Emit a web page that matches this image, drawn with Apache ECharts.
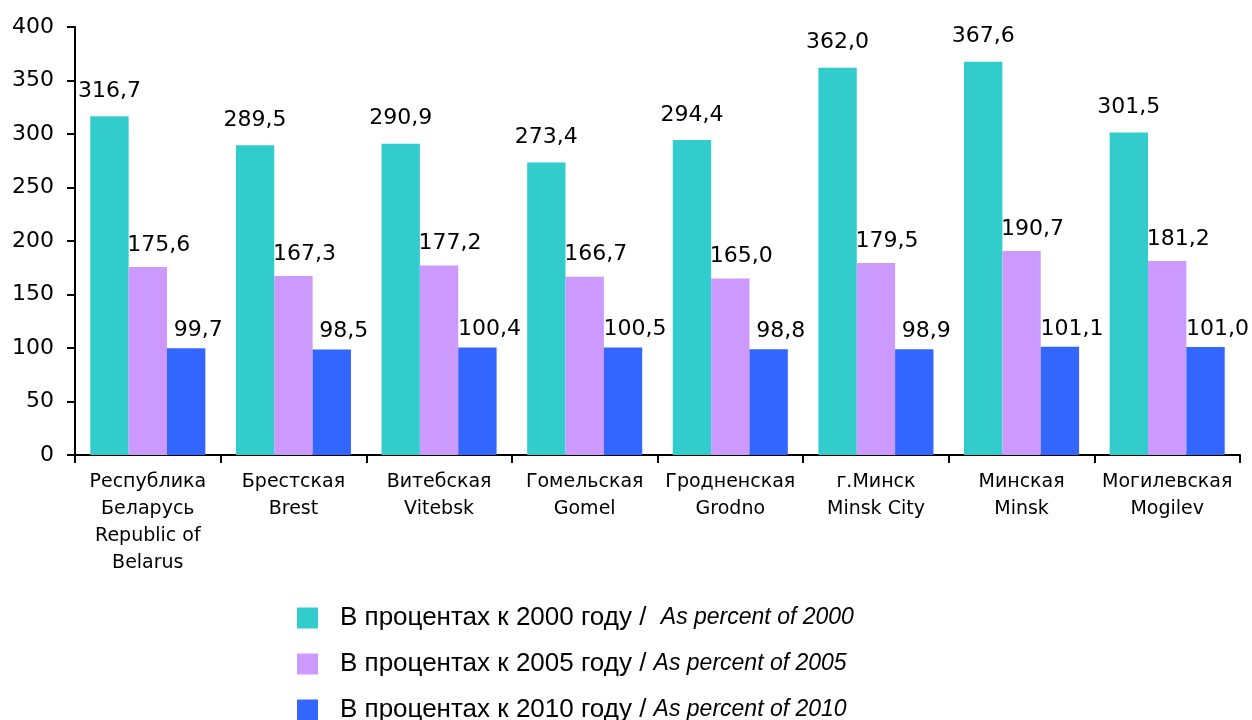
<!DOCTYPE html>
<html>
<head>
<meta charset="utf-8">
<script src="https://cdn.jsdelivr.net/npm/echarts@6/dist/echarts.min.js"></script>
<style>
  html, body { margin: 0; padding: 0; background: #fff; }
  #chart { width: 1252px; height: 720px; }
</style>
</head>
<body>
<div id="chart"></div>
<script>
const regions = [
  'Республика\nБеларусь\nRepublic of\nBelarus',
  'Брестская\nBrest',
  'Витебская\nVitebsk',
  'Гомельская\nGomel',
  'Гродненская\nGrodno',
  'г.Минск\nMinsk City',
  'Минская\nMinsk',
  'Могилевская\nMogilev'
];
const seriesRu = ['В процентах к 2000 году /  ', 'В процентах к 2005 году / ', 'В процентах к 2010 году / '];
const seriesEn = ['As percent of 2000', 'As percent of 2005', 'As percent of 2010'];
const to2000 = [316.7, 289.5, 290.9, 273.4, 294.4, 362.0, 367.6, 301.5];
const to2005 = [175.6, 167.3, 177.2, 166.7, 165.0, 179.5, 190.7, 181.2];
const to2010 = [99.7, 98.5, 100.4, 100.5, 98.8, 98.9, 101.1, 101.0];
const yTicks = [0, 50, 100, 150, 200, 250, 300, 350, 400];

const colors = ['#33CCCC', '#CC99FF', '#3366FF'];
const labelFont = 'DejaVu Sans';

function fmt(v) {
  return v.toFixed(1).replace('.', ',');
}

function bar(i, data, distance, dx) {
  return {
    name: seriesRu[i] + seriesEn[i],
    type: 'bar',
    data: data,
    barGap: '0%',
    barCategoryGap: '21%',
    itemStyle: { color: colors[i] },
    label: {
      show: true,
      position: 'top',
      distance: distance,
      offset: [dx, 0],
      color: '#000',
      fontFamily: labelFont,
      fontSize: 22,
      formatter: p => fmt(p.value)
    }
  };
}

const chart = echarts.init(document.getElementById('chart'));
chart.setOption({
  animation: false,
  grid: { left: 75, right: 12, top: 27, bottom: 265 },
  xAxis: {
    type: 'category',
    data: regions,
    axisLine: { lineStyle: { color: '#000', width: 2 } },
    axisTick: { show: true, length: 8, lineStyle: { color: '#000', width: 2 } },
    axisLabel: {
      interval: 0,
      margin: 14,
      color: '#000',
      fontFamily: labelFont,
      fontSize: 19,
      lineHeight: 27
    }
  },
  yAxis: {
    type: 'value',
    min: yTicks[0],
    max: yTicks[yTicks.length - 1],
    interval: 50,
    splitLine: { show: false },
    axisLine: { show: true, lineStyle: { color: '#000', width: 2 } },
    axisTick: { show: true, length: 8, lineStyle: { color: '#000', width: 2 } },
    axisLabel: {
      margin: 21,
      color: '#000',
      fontFamily: labelFont,
      fontSize: 22
    }
  },
  legend: {
    orient: 'vertical',
    left: 297,
    top: 605,
    height: 130,
    padding: 0,
    itemWidth: 21,
    itemHeight: 21,
    itemGap: 20,
    icon: 'rect',
    selectedMode: false,
    formatter: name => {
      const i = seriesRu.findIndex(s => name.startsWith(s));
      return '{a|' + seriesRu[i] + '}{b|' + seriesEn[i] + '}';
    },
    textStyle: {
      padding: [0, 0, 0, 17],
      rich: {
        a: { fontFamily: 'Liberation Sans', fontSize: 26, lineHeight: 28, color: '#000' },
        b: { fontFamily: 'Liberation Sans', fontStyle: 'italic', fontSize: 23, lineHeight: 28, color: '#000' }
      }
    }
  },
  series: [
    bar(0, to2000, 14, 0),
    bar(1, to2005, 11, 11),
    bar(2, to2010, 7, 12)
  ]
});
</script>
</body>
</html>
